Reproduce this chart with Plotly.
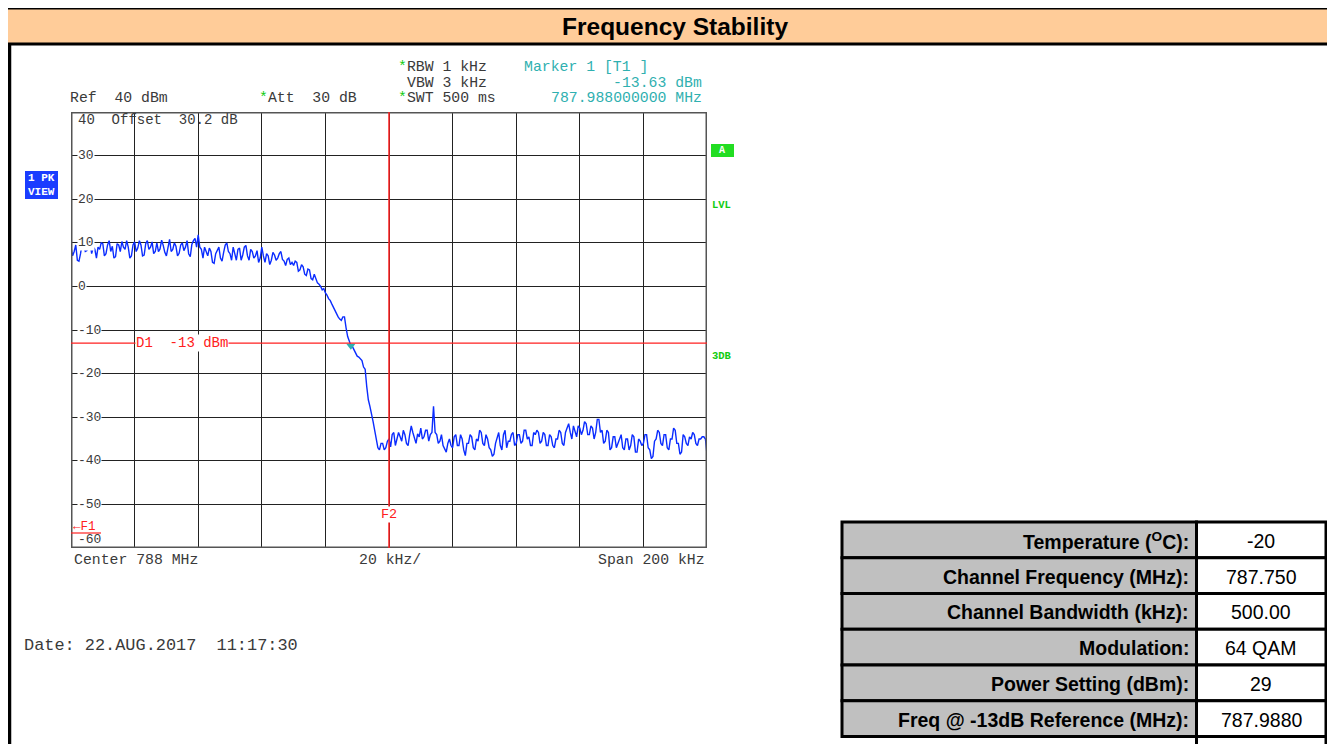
import plotly.graph_objects as go

# page is shifted by the browser's 8px body margin; compensate
OX, OY = 8, 8
W, H = 1335 - OX, 744 - OY

# ---------------- data ----------------
center_mhz = 788.0
span_khz = 200
# trace levels (dBm), sweep from -100 kHz to +100 kHz in 0.5 kHz steps
trace_dbm = [
    # -100.0 .. -60.5 kHz
    9.0, 7.0, 8.0, 9.5, 6.0, 5.8, 7.5, 9.8, 9.5, 8.0, 8.2, 10.2, 10.0, 7.5, 9.0, 8.5, 6.5, 9.0, 8.5, 10.0,
    9.8, 7.0, 7.5, 9.5, 10.5, 8.0, 9.2, 6.5, 6.8, 9.8, 9.5, 8.0, 10.3, 9.0, 8.5, 10.5, 9.0, 6.5, 7.0, 9.5,
    10.2, 8.0, 8.8, 10.5, 9.5, 7.0, 7.2, 9.8, 10.5, 8.5, 9.0, 10.2, 7.5, 8.0, 10.0, 8.0, 8.6, 10.6, 9.4, 7.8,
    7.0, 9.0, 10.8, 8.0, 8.5, 10.0, 9.2, 7.0, 7.6, 9.5, 10.0, 8.2, 9.0, 10.5, 7.5, 6.8, 9.6, 10.5, 11.0, 9.0,
    # -60.0 .. -40.5
    11.8, 9.0, 8.5, 6.5, 9.0, 8.0, 7.0, 8.8, 8.0, 5.5, 5.3, 7.5, 8.5, 9.0, 6.5, 5.8, 7.8, 9.5, 10.0, 8.0,
    7.5, 6.0, 9.0, 7.2, 6.0, 8.5, 8.8, 6.0, 7.2, 9.0, 9.4, 7.0, 6.0, 8.5, 8.0, 6.5, 7.0, 8.2, 5.5, 6.5,
    # -40.0 .. -30.5
    9.0, 7.0, 5.5, 7.5, 7.0, 5.0, 6.0, 7.8, 7.2, 6.0, 6.5, 7.5, 8.0, 6.2, 5.8, 4.8, 6.2, 6.5, 5.0, 5.5,
    # -30.0 .. -21.5
    4.8, 5.8, 5.5, 3.5, 3.8, 5.0, 4.5, 2.8, 2.5, 4.0, 3.8, 1.8, 1.5, 2.8, 2.0, 0.8, 0.5, 0.0,
    # -21.0 .. -12.5
    -0.8, -0.5, -1.5, -2.0, -2.8, -3.2, -4.0, -4.8, -5.2, -6.0, -7.0, -7.5, -7.8, -7.0, -7.0, -9.5, -11.5, -12.5,
    # -12.0 .. -0.5
    -13.6, -13.8, -14.5, -15.0, -16.0, -16.2, -16.5, -17.0, -18.5, -19.0, -23.0, -26.0, -27.5, -29.0, -31.0,
    -33.0, -35.5, -37.0, -37.5, -36.0, -36.0, -37.5, -37.0, -35.5,
    # 0.0 .. 9.5
    -35.0, -36.8, -34.0, -33.5, -36.5, -35.0, -33.5, -34.5, -35.5, -33.0, -34.0, -36.0, -36.5, -34.0, -32.0, -33.5, -35.0, -36.0, -33.8, -34.5,
    # 10.0 .. 19.5
    -32.5, -35.0, -34.5, -33.0, -33.0, -35.5, -34.0, -33.5, -27.5, -33.5, -34.0, -36.0, -35.5, -34.0, -36.5, -37.5, -38.0, -36.0, -35.0, -36.5,
    # 20.0 .. 29.5
    -37.0, -34.5, -34.0, -36.5, -36.5, -34.0, -35.0, -37.5, -38.8, -36.0, -36.0, -34.0, -34.5, -37.0, -37.5, -35.0, -35.5, -33.0, -33.5, -36.0,
    # 30.0 .. 39.5
    -36.5, -34.0, -35.0, -37.0, -37.5, -39.0, -38.5, -36.0, -35.0, -33.5, -36.5, -37.5, -34.0, -33.0, -37.0, -35.5, -35.5, -34.0, -33.5, -36.5,
    # 40.0 .. 49.5
    -36.0, -34.0, -34.0, -36.0, -35.5, -33.0, -33.0, -35.0, -34.5, -36.5, -36.5, -33.5, -34.0, -33.0, -33.5, -36.0, -35.5, -33.5, -34.0, -36.5,
    # 50.0 .. 59.5
    -36.5, -34.0, -34.5, -36.5, -37.0, -35.0, -35.0, -33.0, -33.5, -36.0, -36.5, -33.5, -32.5, -31.5, -33.5, -35.0, -32.0, -33.5, -34.5, -32.0,
    # 60.0 .. 69.5
    -32.5, -34.0, -33.0, -31.0, -31.5, -34.0, -34.0, -32.0, -32.5, -35.0, -33.5, -30.5, -30.5, -33.5, -33.0, -36.0, -35.5, -33.0, -33.5, -37.5,
    # 70.0 .. 79.5
    -37.0, -34.5, -34.5, -37.0, -36.0, -34.5, -34.0, -37.0, -37.5, -35.0, -35.0, -37.5, -36.5, -34.0, -34.5, -38.0, -38.0, -35.0, -35.5, -36.5,
    # 80.0 .. 89.5
    -36.0, -34.0, -34.0, -37.0, -37.5, -39.5, -39.0, -35.5, -35.0, -33.0, -33.5, -36.0, -36.5, -34.0, -34.0, -37.0, -37.5, -35.0, -35.0, -32.5,
    # 90.0 .. 100.0
    -33.0, -36.0, -36.0, -38.5, -38.0, -34.0, -34.5, -36.0, -36.5, -34.5, -35.0, -33.5, -34.0, -36.0, -36.5, -35.0, -35.0, -34.5, -34.5, -35.0,
    -38.5,
]
n_pts = len(trace_dbm)
start_mhz = center_mhz - span_khz / 2000.0
step_mhz = (span_khz / 1000.0) / (n_pts - 1)
freq_mhz = [start_mhz + i * step_mhz for i in range(n_pts)]

marker_freq = 787.988
marker_level = -13.63
display_line_dbm = -13
f2_freq = 788.000
y_ticks = [40, 30, 20, 10, 0, -10, -20, -30, -40, -50, -60]

table_labels = ["Temperature (<sup>O</sup>C):", "Channel Frequency (MHz):", "Channel Bandwidth (kHz):",
                "Modulation:", "Power Setting (dBm):", "Freq @ -13dB Reference (MHz):"]
table_values = ["-20", "787.750", "500.00", "64 QAM", "29", "787.9880"]

# ---------------- helpers (page pixel -> paper) ----------------
def px(x):
    return (x - OX) / W

def py(y):
    return 1 - (y - OY) / H

MONO = "Liberation Mono"
GREY_TXT = "#3a3a3a"
TEAL = "#2fb0b0"
GREEN = "#11cc11"
RED = "#ff2020"

plot_l, plot_r, plot_t, plot_b = 71, 707, 112, 548

fig = go.Figure()
fig.add_trace(go.Scatter(x=freq_mhz, y=trace_dbm, mode="lines",
                         line=dict(color="#0a2cff", width=1.4), hoverinfo="skip", showlegend=False))
fig.add_trace(go.Scatter(x=[marker_freq], y=[marker_level], mode="markers",
                         marker=dict(symbol="triangle-down", size=8, color=TEAL), showlegend=False))

shapes = []
annos = []

# page frame & header
shapes.append(dict(type="rect", xref="paper", yref="paper", x0=px(6), x1=px(1345), y0=py(44), y1=py(8),
                   fillcolor="#ffcc99", line=dict(color="black", width=3), layer="below"))
shapes.append(dict(type="line", xref="paper", yref="paper", x0=px(9.5), x1=px(9.5), y0=py(748), y1=py(44),
                   line=dict(color="black", width=3.5)))

def txt(x, y, s, color=GREY_TXT, size=14.8, anchor="left", bg=None, family=MONO, bold=False):
    d = dict(x=px(x), y=py(y), xref="paper", yref="paper", text=("<b>%s</b>" % s) if bold else s,
             showarrow=False, font=dict(family=family, size=size, color=color),
             xanchor=anchor, yanchor="middle", borderpad=0)
    if bg:
        d["bgcolor"] = bg
    annos.append(d)

txt(675, 26, "Frequency Stability", color="black", size=24.5, anchor="center",
    family="Liberation Sans", bold=True)

# plot frame
shapes.append(dict(type="rect", xref="x", yref="y", x0=freq_mhz[0], x1=freq_mhz[-1], y0=-60, y1=40,
                   line=dict(color="#555", width=3)))
# display line D1 and F2
shapes.append(dict(type="line", xref="x", yref="y", x0=freq_mhz[0], x1=freq_mhz[-1],
                   y0=display_line_dbm, y1=display_line_dbm, line=dict(color=RED, width=1.2)))
shapes.append(dict(type="line", xref="x", yref="y", x0=f2_freq, x1=f2_freq, y0=-60, y1=40,
                   line=dict(color=RED, width=1.5)))
# F1 indicator line
shapes.append(dict(type="line", xref="paper", yref="paper", x0=px(71), x1=px(101), y0=py(533), y1=py(533),
                   line=dict(color=RED, width=1.2)))

NB = "\u00a0"
star = "<span style='color:%s'>*</span>" % GREEN
txt(397, 67, star + "RBW 1 kHz".replace(" ", NB))
txt(406, 83, "VBW 3 kHz".replace(" ", NB))
txt(397, 98, star + "SWT 500 ms".replace(" ", NB))
txt(258, 98, star + "Att  30 dB".replace(" ", NB))
txt(69, 98, "Ref  40 dBm".replace(" ", NB))
txt(523, 67, "Marker 1 [T1 ]".replace(" ", NB), color=TEAL)
txt(703, 83, "-13.63 dBm".replace(" ", NB), color=TEAL, anchor="right")
txt(703, 98, ("%.9f MHz" % marker_freq).replace(" ", NB), color=TEAL, anchor="right")

# y labels
ymap = lambda v: plot_t + (40 - v) * (plot_b - plot_t) / 100.0
for v in y_ticks:
    if v == 40:
        txt(77, 120, ("%d  Offset  30.2 dB" % v).replace(" ", NB), size=14)
    elif v == -60:
        txt(77, 539, "%d" % v, size=13)
    else:
        txt(77, ymap(v), "%d" % v, size=13, bg="white")

txt(135, ymap(display_line_dbm), ("D1  %d dBm" % display_line_dbm).replace(" ", NB), color=RED, size=14, bg="white")
txt(380, 514, "F2", color=RED, size=13.5, bg="white")
txt(72, 527, "\u2190F1", color=RED, size=12.5)

# bottom labels
txt(73, 560, ("Center %d MHz" % center_mhz).replace(" ", NB))
txt(390, 560, "20 kHz/".replace(" ", NB), anchor="center")
txt(706, 560, ("Span %d kHz" % span_khz).replace(" ", NB), anchor="right")
txt(23, 645, "Date: 22.AUG.2017  11:17:30".replace(" ", NB), size=16.9)

# 1 PK VIEW box
shapes.append(dict(type="rect", xref="paper", yref="paper", x0=px(25), x1=px(58), y0=py(199), y1=py(171),
                   fillcolor="#1a3cff", line=dict(width=0)))
txt(41.5, 178, "1" + NB + "PK", color="white", size=11, anchor="center", bold=True)
txt(41.5, 192, "VIEW", color="white", size=11, anchor="center", bold=True)

# right indicators
shapes.append(dict(type="rect", xref="paper", yref="paper", x0=px(711), x1=px(734), y0=py(157), y1=py(144),
                   fillcolor="#22dd22", line=dict(width=0)))
txt(722.5, 150.5, "A", color="white", size=10, anchor="center", bold=True)
txt(711, 205, "LVL", color=GREEN, size=10.5, bold=True)
txt(711, 356, "3DB", color=GREEN, size=10.5, bold=True)

# table
row_edges = [522, 557.7, 593.5, 629.3, 665, 700.8, 736.5]
xl0, xmid, xr = 842, 1196.5, 1326
for i, (lab, val) in enumerate(zip(table_labels, table_values)):
    y0, y1 = row_edges[i], row_edges[i + 1]
    shapes.append(dict(type="rect", xref="paper", yref="paper", x0=px(xl0), x1=px(xmid), y0=py(y1), y1=py(y0),
                       fillcolor="#c0c0c0", line=dict(color="black", width=3)))
    shapes.append(dict(type="rect", xref="paper", yref="paper", x0=px(xmid), x1=px(xr), y0=py(y1), y1=py(y0),
                       fillcolor="white", line=dict(color="black", width=3)))
    yc = (y0 + y1) / 2 + 1
    txt(xmid - 7, yc, lab, color="black", size=19.5, anchor="right", family="Liberation Sans", bold=True)
    txt((xmid + xr) / 2, yc, val, color="black", size=19.5, anchor="center", family="Liberation Sans")
shapes.append(dict(type="line", xref="paper", yref="paper", x0=px(xmid), x1=px(xmid), y0=py(750), y1=py(736),
                   line=dict(color="black", width=3)))
shapes.append(dict(type="line", xref="paper", yref="paper", x0=px(xr), x1=px(xr), y0=py(750), y1=py(736),
                   line=dict(color="black", width=3)))

fig.update_layout(
    width=W, height=H, margin=dict(l=0, r=0, t=0, b=0),
    paper_bgcolor="white", plot_bgcolor="white",
    shapes=shapes, annotations=annos, showlegend=False,
    xaxis=dict(domain=[px(plot_l), px(plot_r)], range=[freq_mhz[0], freq_mhz[-1]],
               tick0=freq_mhz[0], dtick=0.02, showgrid=True, gridcolor="#222", gridwidth=1.2,
               showticklabels=False, zeroline=False, showline=False, ticks=""),
    yaxis=dict(domain=[py(plot_b), py(plot_t)], range=[-60, 40], tick0=-60, dtick=10,
               showgrid=True, gridcolor="#222", gridwidth=1.2,
               showticklabels=False, zeroline=False, showline=False, ticks=""),
)

fig.write_html("out.html")
